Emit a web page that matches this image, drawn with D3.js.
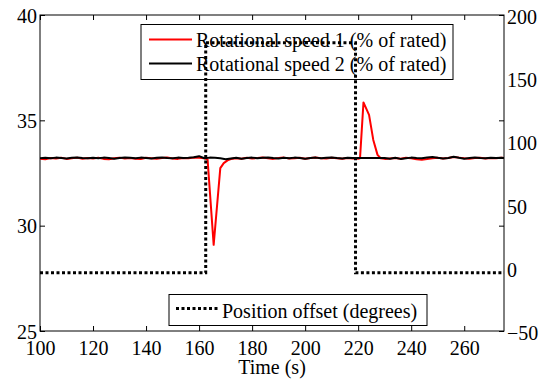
<!DOCTYPE html>
<html>
<head>
<meta charset="utf-8">
<script src="https://cdn.jsdelivr.net/npm/d3@7"></script>
<style>
  body { margin: 0; background: #fff; }
  svg text { font-family: "Liberation Serif", "Times New Roman", serif; }
</style>
</head>
<body>
<div id="chart"></div>
<script>
// time ticks and axis labels
const xTicks = [100, 120, 140, 160, 180, 200, 220, 240, 260];
const leftTicks = [25, 30, 35, 40];
const rightTicks = [-50, 0, 50, 100, 150, 200];

// rotational speed 1 (red), % of rated
const speed1Time = [
  100, 102, 104, 106, 108, 110, 112, 114, 116, 118, 120, 122, 124, 126, 128, 130,
  132, 134, 136, 138, 140, 142, 144, 146, 148, 150, 152, 154, 156, 158, 160, 162,
  163.2, 165.5, 168, 169.3, 171, 172,
  174, 176, 178, 180, 182, 184, 186, 188, 190, 192, 194, 196, 198, 200, 202, 204,
  206, 208, 210, 212, 214, 216, 218,
  220, 220.7, 222, 224.1, 225.7, 227.3, 228.5,
  230, 232, 234, 236, 238, 240, 242, 244, 246, 248, 250, 252, 254, 256, 258, 260,
  262, 264, 266, 268, 270, 272, 274, 275
];
const speed1 = [
  33.18, 33.15, 33.21, 33.19, 33.22, 33.17, 33.20, 33.23, 33.18, 33.21, 33.19, 33.22, 33.17, 33.15, 33.20, 33.23,
  33.19, 33.21, 33.18, 33.16, 33.22, 33.20, 33.18, 33.21, 33.24, 33.19, 33.17, 33.21, 33.20, 33.23, 33.22, 33.20,
  33.15, 29.09, 32.73, 32.97, 33.12, 33.16,
  33.20, 33.18, 33.22, 33.19, 33.21, 33.24, 33.20, 33.17, 33.21, 33.23, 33.19, 33.20, 33.22, 33.18, 33.21, 33.24,
  33.20, 33.19, 33.22, 33.20, 33.18, 33.21, 33.19,
  33.18, 33.20, 35.85, 35.26, 34.07, 33.36, 33.20,
  33.17, 33.19, 33.21, 33.18, 33.22, 33.20, 33.15, 33.13, 33.16, 33.20, 33.22, 33.19, 33.21, 33.26, 33.23, 33.20,
  33.18, 33.21, 33.22, 33.19, 33.21, 33.20, 33.22, 33.21
];

// rotational speed 2 (black), % of rated
const speed2Time = [
  100, 102, 104, 106, 108, 110, 112, 114, 116, 118, 120, 122, 124, 126, 128, 130,
  132, 134, 136, 138, 140, 142, 144, 146, 148, 150, 152, 154, 156, 158, 160, 162,
  164, 166, 168, 170, 172, 174, 176, 178, 180, 182, 184, 186, 188, 190, 192, 194,
  196, 198, 200, 202, 204, 206, 208, 210, 212, 214, 216, 218, 220, 222, 224, 226,
  228, 230, 232, 234, 236, 238, 240, 242, 244, 246, 248, 250, 252, 254, 256, 258,
  260, 262, 264, 266, 268, 270, 272, 274, 275
];
const speed2 = [
  33.20, 33.22, 33.20, 33.23, 33.21, 33.19, 33.22, 33.24, 33.21, 33.20, 33.22, 33.20, 33.23, 33.21, 33.18, 33.21,
  33.24, 33.22, 33.20, 33.23, 33.21, 33.19, 33.22, 33.24, 33.21, 33.20, 33.23, 33.21, 33.22, 33.25, 33.30, 33.20,
  33.23, 33.22, 33.20, 33.15, 33.19, 33.22, 33.18, 33.21, 33.23, 33.20, 33.22, 33.24, 33.21, 33.19, 33.22, 33.20,
  33.23, 33.21, 33.18, 33.21, 33.23, 33.20, 33.22, 33.24, 33.21, 33.19, 33.22, 33.21, 33.21, 33.21, 33.21, 33.21,
  33.21, 33.21, 33.18, 33.22, 33.17, 33.20, 33.23, 33.21, 33.20, 33.24, 33.26, 33.22, 33.19, 33.21, 33.27, 33.22,
  33.18, 33.21, 33.23, 33.21, 33.20, 33.22, 33.21, 33.22, 33.21
];

// position offset (degrees), right axis
const offsetTime = [100, 162.5, 162.5, 219, 219, 275];
const offset = [-4, -4, 178, 178, -4, -4];

const legendTop = ["Rotational speed 1 (% of rated)", "Rotational speed 2 (% of rated)"];
const legendBottom = "Position offset (degrees)";

const width = 539, height = 380;
const mLeft = 40, mRight = 504, mTop = 15, mBottom = 331;

const svg = d3.select("#chart").append("svg")
  .attr("width", width)
  .attr("height", height);

const x = d3.scaleLinear().domain([100, 275]).range([mLeft, mRight]);
const y1 = d3.scaleLinear().domain([25, 40]).range([mBottom, mTop]);
const y2 = d3.scaleLinear().domain([-50, 200]).range([mBottom, mTop]);

const fontSize = 20;

// axes
const gx = svg.append("g").attr("transform", "translate(0," + mBottom + ")")
  .call(d3.axisBottom(x).tickValues(xTicks).tickSize(-5).tickPadding(10));
const gxTop = svg.append("g").attr("transform", "translate(0," + mTop + ")")
  .call(d3.axisTop(x).tickValues(xTicks).tickSize(-5).tickFormat(""));
const gyl = svg.append("g").attr("transform", "translate(" + mLeft + ",0)")
  .call(d3.axisLeft(y1).tickValues(leftTicks).tickSize(-5).tickPadding(3));
const gyrMarks = svg.append("g").attr("transform", "translate(" + mRight + ",0)")
  .call(d3.axisRight(y1).tickValues(leftTicks).tickSize(-5).tickFormat(""));
const gyr = svg.append("g").attr("transform", "translate(" + mRight + ",0)")
  .call(d3.axisRight(y2).tickValues(rightTicks).tickSize(0).tickPadding(3));

[gx, gxTop, gyl, gyrMarks, gyr].forEach(g => {
  g.attr("font-family", null).attr("font-size", null);
  g.select(".domain").remove();
  g.selectAll("line").attr("stroke", "#000");
  g.selectAll("text")
    .style("font-size", fontSize + "px")
    .attr("fill", "#000");
});
gx.selectAll("text").attr("dy", "0.68em");
gyr.selectAll("text").attr("dy", "0.42em");
gyl.selectAll("text").attr("dy", "0.36em");

svg.append("rect")
  .attr("x", mLeft).attr("y", mTop)
  .attr("width", mRight - mLeft).attr("height", mBottom - mTop)
  .attr("fill", "none").attr("stroke", "#000").attr("stroke-width", 1);

svg.append("text")
  .attr("x", (mLeft + mRight) / 2).attr("y", 374)
  .attr("text-anchor", "middle")
  .style("font-size", fontSize + "px")
  .text("Time (s)");

// speed lines
const line1 = d3.line().x(d => x(d[0])).y(d => y1(d[1]));
svg.append("clipPath").attr("id", "plot")
  .append("rect").attr("x", mLeft).attr("y", mTop)
  .attr("width", mRight - mLeft).attr("height", mBottom - mTop);

svg.append("path")
  .datum(d3.zip(speed1Time, speed1))
  .attr("clip-path", "url(#plot)")
  .attr("fill", "none")
  .attr("stroke", "#ff0000")
  .attr("stroke-width", 2)
  .attr("stroke-linejoin", "round")
  .attr("d", line1);

svg.append("path")
  .datum(d3.zip(speed2Time, speed2))
  .attr("clip-path", "url(#plot)")
  .attr("fill", "none")
  .attr("stroke", "#000")
  .attr("stroke-width", 2)
  .attr("stroke-linejoin", "round")
  .attr("d", line1);

// legend for the speeds
const leg1 = svg.append("g");
leg1.append("rect")
  .attr("x", 141).attr("y", 24.5).attr("width", 312).attr("height", 55)
  .attr("fill", "#fff").attr("stroke", "#000").attr("stroke-width", 1);
const legColors = ["#ff0000", "#000"];
legendTop.forEach((t, i) => {
  const yy = 39.5 + i * 24;
  leg1.append("line")
    .attr("x1", 149).attr("x2", 192).attr("y1", yy).attr("y2", yy)
    .attr("stroke", legColors[i]).attr("stroke-width", 2);
  leg1.append("text")
    .attr("x", 196).attr("y", yy + 7.5)
    .style("font-size", fontSize + "px")
    .text(t);
});

// position offset, drawn on top like the second axes
const line2 = d3.line().x(d => x(d[0])).y(d => y2(d[1]));
svg.append("path")
  .datum(d3.zip(offsetTime, offset))
  .attr("clip-path", "url(#plot)")
  .attr("fill", "none")
  .attr("stroke", "#000")
  .attr("stroke-width", 3)
  .attr("stroke-dasharray", "3,2.5")
  .attr("d", line2);

const leg2 = svg.append("g");
leg2.append("rect")
  .attr("x", 169).attr("y", 294.5).attr("width", 258).attr("height", 31)
  .attr("fill", "#fff").attr("stroke", "#000").attr("stroke-width", 1);
leg2.append("line")
  .attr("x1", 176).attr("x2", 219).attr("y1", 308.5).attr("y2", 308.5)
  .attr("stroke", "#000").attr("stroke-width", 3)
  .attr("stroke-dasharray", "3,2.5");
leg2.append("text")
  .attr("x", 222).attr("y", 318)
  .style("font-size", fontSize + "px")
  .text(legendBottom);
</script>
</body>
</html>
